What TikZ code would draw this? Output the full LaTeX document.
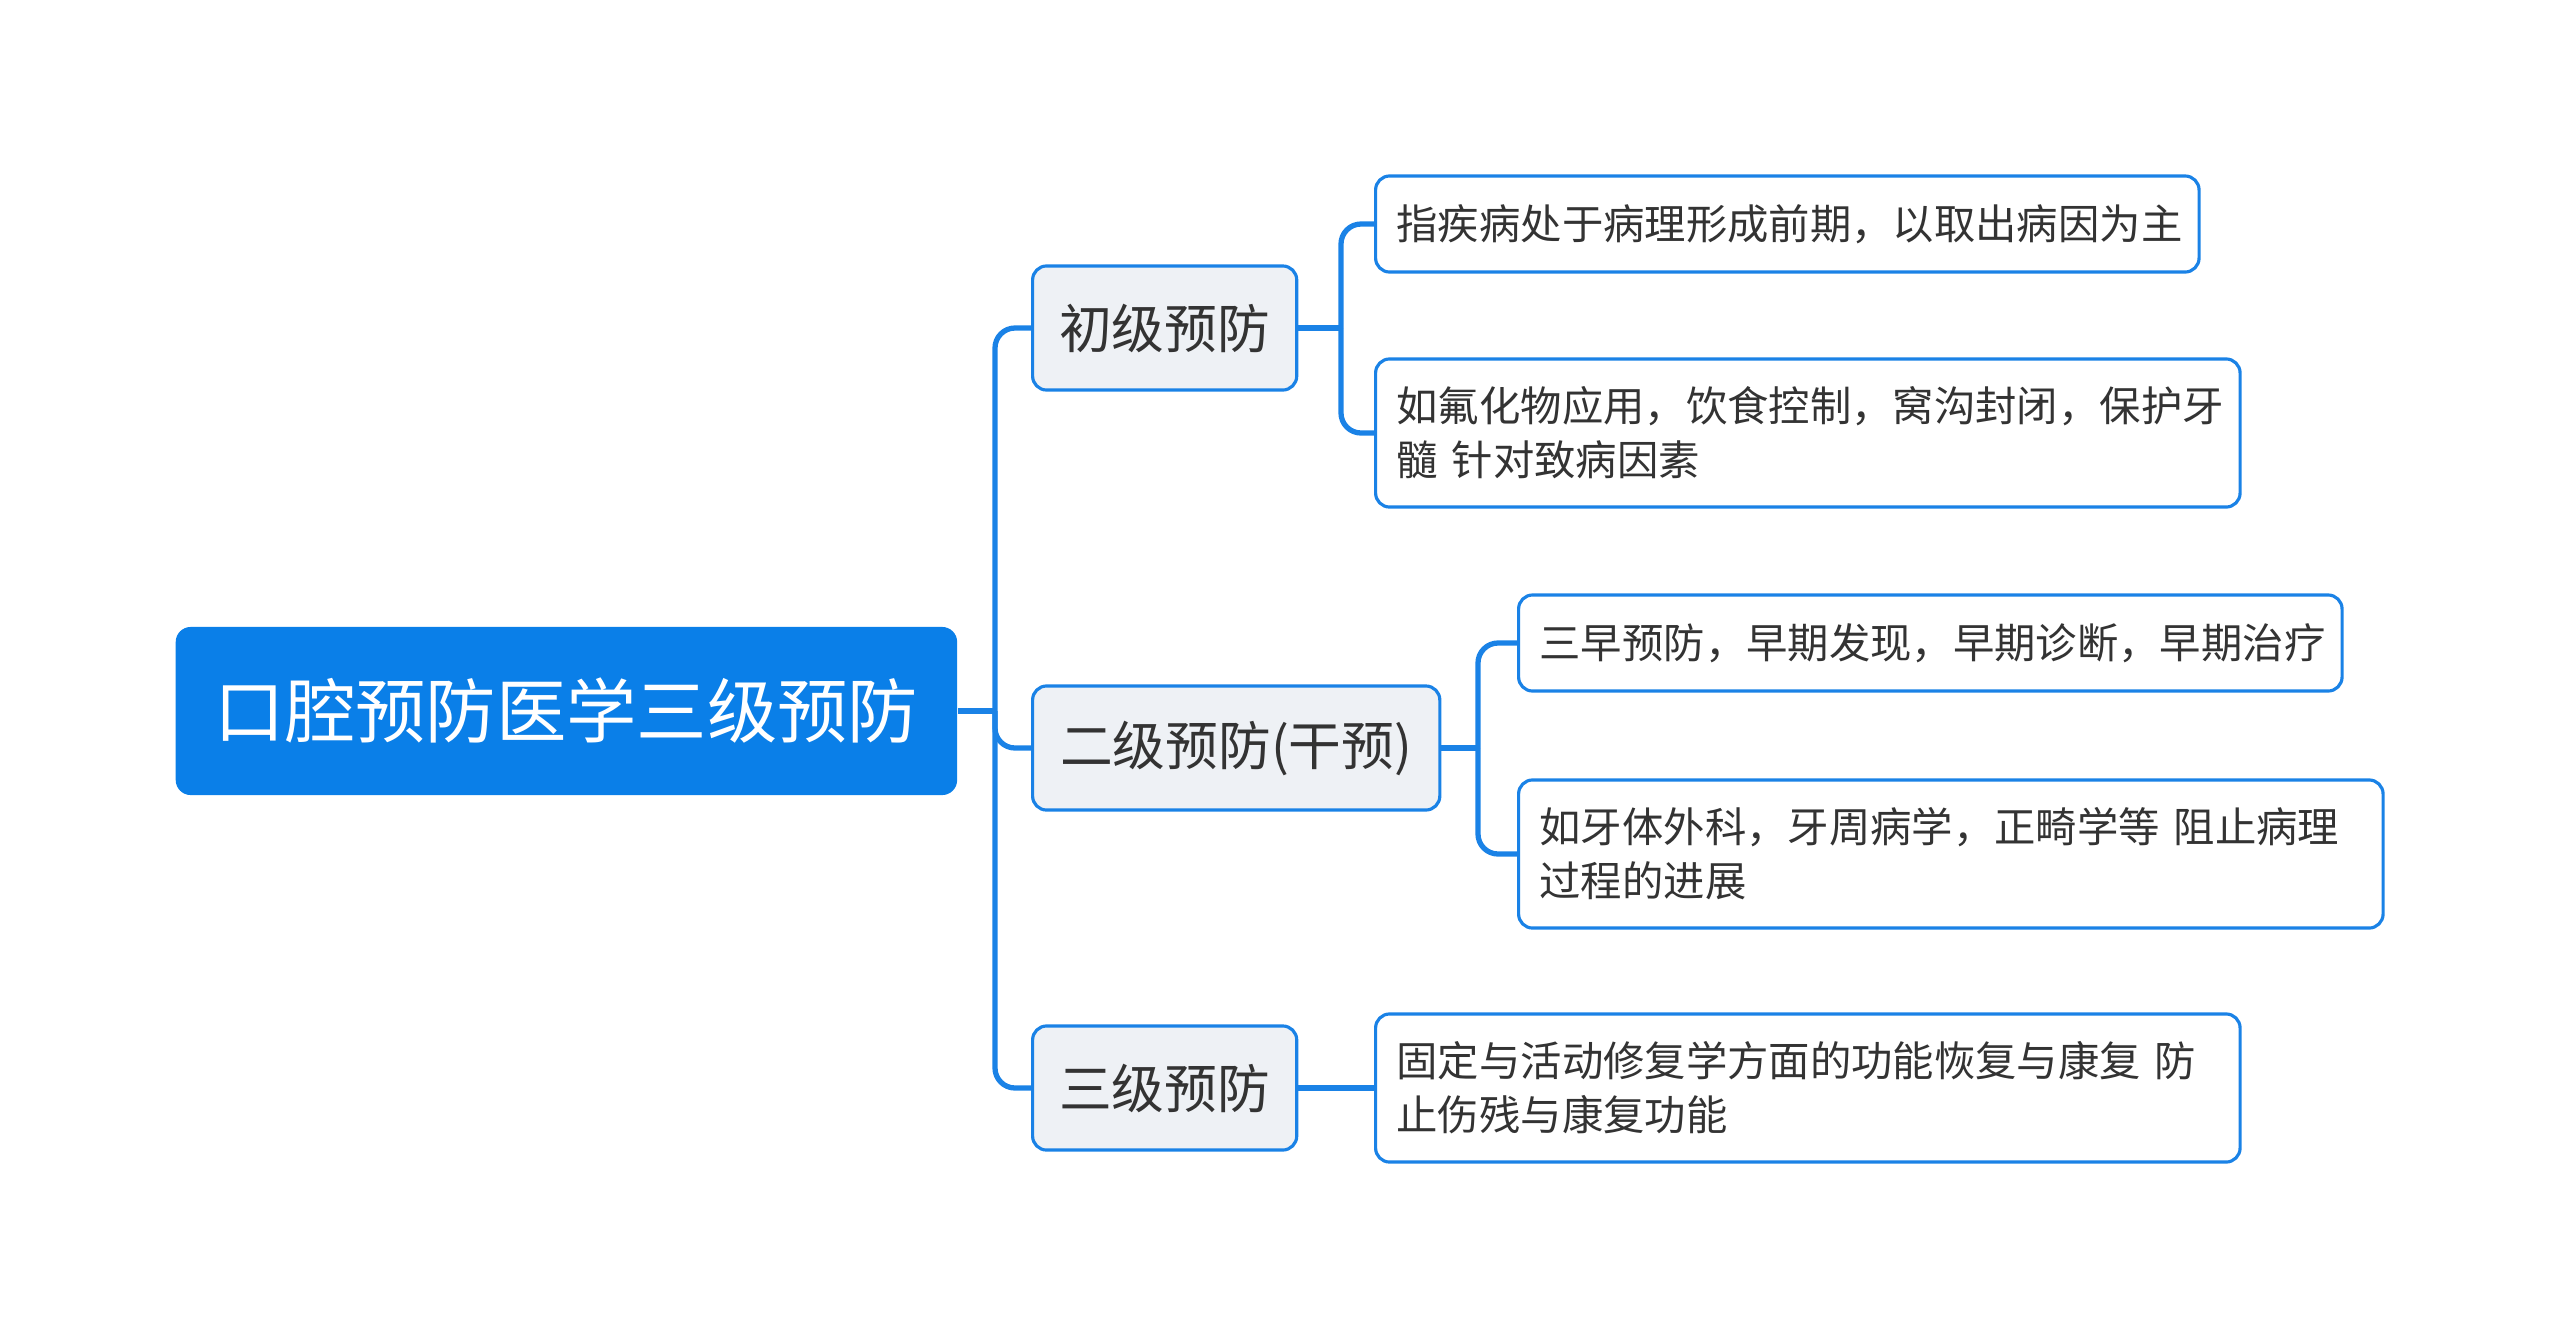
\documentclass[tikz,border=0pt]{standalone}
\usepackage{fontspec}
\setmainfont{Noto Sans CJK SC}
\definecolor{rootblue}{HTML}{0A7FE8}
\definecolor{lineblue}{HTML}{1A82E6}
\definecolor{topicgray}{HTML}{EEF1F5}
\definecolor{txtgray}{HTML}{333333}
\begin{document}
\begin{tikzpicture}
        [x=0.01cm, y=-0.01cm,
        root/.style={rounded corners=0.15cm, fill=rootblue, text=white, font=\fontsize{20}{24}\selectfont, minimum width=7.81cm, minimum height=1.68cm, anchor=west},
        topic/.style={rounded corners=0.14cm, draw=lineblue, line width=0.9pt, fill=topicgray, text=txtgray, font=\fontsize{15}{18}\selectfont, minimum height=1.24cm, anchor=west},
        leaf/.style={rounded corners=0.14cm, draw=lineblue, line width=0.9pt, fill=white, text=txtgray, font=\fontsize{11.76}{15.4}\selectfont, align=left, inner xsep=0.21cm, anchor=west},
        conn/.style={lineblue, line width=1.5pt, rounded corners=0.2cm}]

        \useasboundingbox (0,0) rectangle (2560,1339);

        \node[root] (root) at (175,711) {口腔预防医学三级预防};
        \node[topic, minimum width=2.64cm] (first) at (1031,328) {初级预防};
        \node[topic, minimum width=4.07cm] (second) at (1031,748) {二级预防(干预)};
        \node[topic, minimum width=2.64cm] (third) at (1031,1088) {三级预防};

        % leaves
        \node[leaf, text width=7.81cm, minimum height=0.96cm] (firstA) at (1374,224) {指疾病处于病理形成前期，以取出病因为主};
        \node[leaf, text width=8.22cm, minimum height=1.48cm] (firstB) at (1374,433) {如氟化物应用，饮食控制，窝沟封闭，保护牙\\髓 针对致病因素};
        \node[leaf, text width=7.81cm, minimum height=0.96cm] (secondA) at (1517,643) {三早预防，早期发现，早期诊断，早期治疗};
        \node[leaf, text width=8.22cm, minimum height=1.48cm] (secondB) at (1517,854) {如牙体外科，牙周病学，正畸学等 阻止病理\\过程的进展};
        \node[leaf, text width=8.22cm, minimum height=1.48cm] (thirdA) at (1374,1088) {固定与活动修复学方面的功能恢复与康复 防\\止伤残与康复功能};

        \coordinate (rootfork) at (995,711);
        \coordinate (firstfork) at (1341,328);
        \coordinate (secondfork) at (1478,748);

        % root to topics
        \draw[conn] (root.east) -- (rootfork);
        \draw[conn] (rootfork) |- (first.west);
        \draw[conn] (rootfork) |- (second.west);
        \draw[conn] (rootfork) |- (third.west);
        % topics to leaves
        \draw[conn] (first.east) -- (firstfork);
        \draw[conn] (firstfork) |- (firstA.west);
        \draw[conn] (firstfork) |- (firstB.west);
        \draw[conn] (second.east) -- (secondfork);
        \draw[conn] (secondfork) |- (secondA.west);
        \draw[conn] (secondfork) |- (secondB.west);
        \draw[conn] (third.east) -- (thirdA.west);

\end{tikzpicture}
\end{document}
